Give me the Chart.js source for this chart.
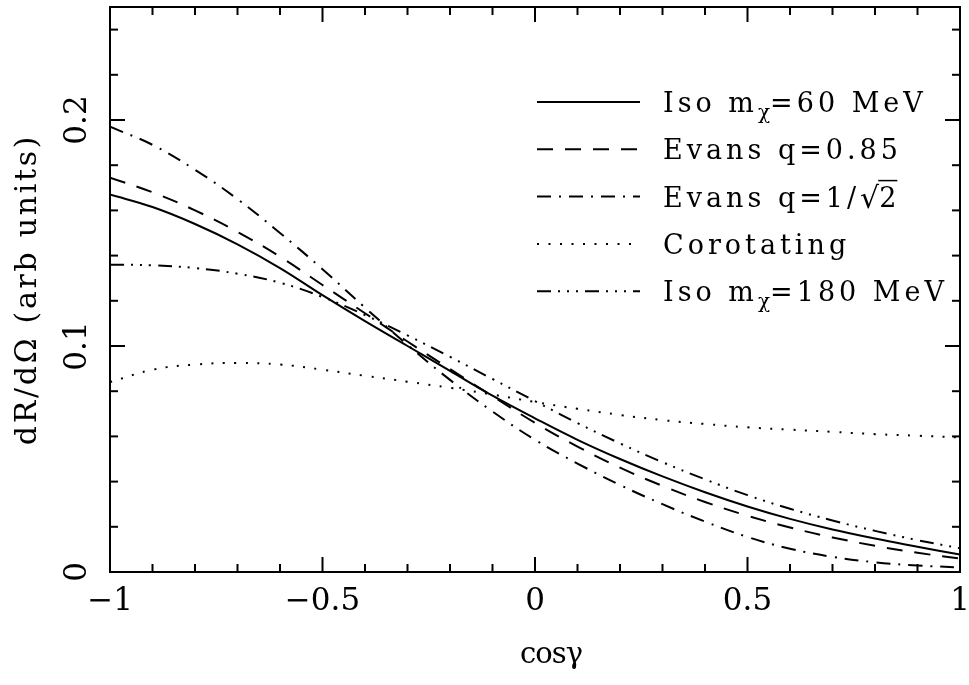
<!DOCTYPE html>
<html>
<head>
<meta charset="utf-8">
<script src="https://cdn.jsdelivr.net/npm/chart.js@4.4.0/dist/chart.umd.min.js"></script>
<style>
  html, body { margin: 0; padding: 0; background: #fff; }
</style>
</head>
<body>
<canvas id="chart" width="969" height="685"></canvas>
<script>
// === DATA ===
const cosGamma = [-1, -0.9, -0.8, -0.7, -0.6, -0.5, -0.4, -0.3, -0.2, -0.1, 0,
                  0.1, 0.2, 0.3, 0.4, 0.5, 0.6, 0.7, 0.8, 0.9, 1];
const iso60 = [0.167, 0.1615, 0.154, 0.145, 0.1345, 0.1225, 0.111, 0.100, 0.089, 0.078, 0.068,
               0.0585, 0.050, 0.0423, 0.0353, 0.029, 0.0235, 0.0188, 0.0148, 0.0112, 0.0077];
const evans085 = [0.1745, 0.168, 0.160, 0.1505, 0.1395, 0.127, 0.1145, 0.102, 0.0898, 0.0778, 0.066,
                  0.0555, 0.0462, 0.0381, 0.031, 0.0249, 0.0197, 0.0153, 0.0116, 0.0085, 0.006];
const evansInvSqrt2 = [0.197, 0.189, 0.178, 0.165, 0.150, 0.134, 0.117, 0.1005, 0.085, 0.071, 0.0585,
                       0.048, 0.0385, 0.030, 0.0223, 0.0155, 0.0103, 0.0067, 0.0043, 0.0029, 0.002];
const corotating = [0.084, 0.0895, 0.0918, 0.0925, 0.0918, 0.0895, 0.0868, 0.0842, 0.0815, 0.0785, 0.0752,
                    0.0722, 0.0695, 0.0672, 0.0655, 0.064, 0.063, 0.062, 0.061, 0.0603, 0.0595];
const iso180 = [0.136, 0.1357, 0.1345, 0.132, 0.128, 0.1217, 0.1137, 0.1047, 0.0952, 0.0854, 0.0756,
                0.0659, 0.0569, 0.0486, 0.041, 0.034, 0.028, 0.0228, 0.0182, 0.0141, 0.0105];

const xMajorTicks = [-1, -0.5, 0, 0.5, 1];
const xTickLabels = ['\u22121', '\u22120.5', '0', '0.5', '1'];
const yMajorTicks = [0, 0.1, 0.2];
const yTickLabels = ['0', '0.1', '0.2'];
const xMinorTicks = [-0.9, -0.8, -0.7, -0.6, -0.4, -0.3, -0.2, -0.1, 0.1, 0.2, 0.3, 0.4, 0.6, 0.7, 0.8, 0.9];
const yMinorTicks = [0.02, 0.04, 0.06, 0.08, 0.12, 0.14, 0.16, 0.18, 0.22, 0.24];

const SERIF = '"DejaVu Serif", "Liberation Serif", serif';

function pts(ys) {
    return ys.map((y, i) => ({ x: cosGamma[i], y: y }));
}

// legend label pieces: [text, isSubscript]
const series = [
    { data: iso60, dash: [], label: [['Iso m', false], ['\u03c7', true], ['=60 MeV', false]] },
    { data: evans085, dash: [16, 12], label: [['Evans q=0.85', false]] },
    { data: evansInvSqrt2, dash: [14, 8, 2, 8], label: [['Evans q=1/', false], ['sqrt', false]] },
    { data: corotating, dash: [2, 9.5], label: [['Corotating', false]] },
    { data: iso180, dash: [14, 7, 2, 7, 2, 7, 2, 7], label: [['Iso m', false], ['\u03c7', true], ['=180 MeV', false]] }
];

function setSpacing(ctx, px) {
    if ('letterSpacing' in ctx) ctx.letterSpacing = px + 'px';
}

// === FRAME, TICKS, LABELS, LEGEND ===
const framePlugin = {
    id: 'frame',
    afterDatasetsDraw(chart) {
        const ctx = chart.ctx;
        const xs = chart.scales.x, ys = chart.scales.y;
        const a = chart.chartArea;
        ctx.save();
        ctx.strokeStyle = '#000';
        ctx.fillStyle = '#000';
        ctx.lineWidth = 2;
        ctx.setLineDash([]);
        ctx.strokeRect(a.left, a.top, a.right - a.left, a.bottom - a.top);

        const tick = (x1, y1, x2, y2) => {
            ctx.beginPath(); ctx.moveTo(x1, y1); ctx.lineTo(x2, y2); ctx.stroke();
        };
        xMajorTicks.forEach(v => {
            const px = xs.getPixelForValue(v);
            tick(px, a.bottom, px, a.bottom - 15);
            tick(px, a.top, px, a.top + 15);
        });
        xMinorTicks.forEach(v => {
            const px = xs.getPixelForValue(v);
            tick(px, a.bottom, px, a.bottom - 8);
            tick(px, a.top, px, a.top + 8);
        });
        yMajorTicks.forEach(v => {
            const py = ys.getPixelForValue(v);
            tick(a.left, py, a.left + 15, py);
            tick(a.right, py, a.right - 15, py);
        });
        yMinorTicks.forEach(v => {
            const py = ys.getPixelForValue(v);
            tick(a.left, py, a.left + 8, py);
            tick(a.right, py, a.right - 8, py);
        });

        // tick labels
        ctx.font = '31px ' + SERIF;
        ctx.textAlign = 'center';
        ctx.textBaseline = 'middle';
        xMajorTicks.forEach((v, i) => {
            ctx.fillText(xTickLabels[i], xs.getPixelForValue(v), a.bottom + 30);
        });
        yMajorTicks.forEach((v, i) => {
            ctx.save();
            ctx.translate(a.left - 32, ys.getPixelForValue(v));
            ctx.rotate(-Math.PI / 2);
            ctx.fillText(yTickLabels[i], 0, 0);
            ctx.restore();
        });

        // axis titles
        ctx.font = '29px ' + SERIF;
        setSpacing(ctx, -1);
        ctx.fillText('cos\u03b3', 551, 655);
        ctx.font = '30px ' + SERIF;
        setSpacing(ctx, 2.7);
        ctx.save();
        ctx.translate(28, (a.top + a.bottom) / 2);
        ctx.rotate(-Math.PI / 2);
        ctx.fillText('dR/d\u03a9 (arb units)', 0, 0);
        ctx.restore();

        // legend
        ctx.textAlign = 'left';
        ctx.textBaseline = 'alphabetic';
        series.forEach((s, i) => {
            const cy = 102 + i * 47.3;
            ctx.setLineDash(s.dash);
            ctx.beginPath(); ctx.moveTo(537, cy); ctx.lineTo(640, cy); ctx.stroke();
            ctx.setLineDash([]);
            let x = 663;
            const base = cy + 10;
            s.label.forEach(([txt, sub]) => {
                if (txt === 'sqrt') {
                    ctx.font = '30px ' + SERIF;
                    setSpacing(ctx, 0);
                    ctx.fillText('\u221a', x, base + 1);
                    const w = ctx.measureText('\u221a').width;
                    ctx.font = '27px ' + SERIF;
                    setSpacing(ctx, 4);
                    ctx.fillText('2', x + w, base);
                    const w2 = ctx.measureText('2').width;
                    ctx.lineWidth = 1.5;
                    tick(x + w - 1, base - 26, x + w + w2 - 3, base - 26);
                    ctx.lineWidth = 2;
                    x += w + w2;
                    return;
                }
                ctx.font = (sub ? '20px ' : '27px ') + SERIF;
                setSpacing(ctx, sub ? 0 : 4);
                ctx.fillText(txt, x, sub ? base + 7 : base);
                x += ctx.measureText(txt).width;
            });
        });
        ctx.restore();
    }
};

new Chart(document.getElementById('chart'), {
    type: 'line',
    data: {
        datasets: series.map(s => ({
            data: pts(s.data),
            borderColor: '#000',
            borderWidth: 2,
            borderDash: s.dash,
            pointRadius: 0,
            fill: false,
            tension: 0.4
        }))
    },
    options: {
        responsive: false,
        devicePixelRatio: 1,
        animation: false,
        layout: { padding: { left: 110, right: 9, top: 7, bottom: 113 } },
        plugins: { legend: { display: false }, tooltip: { enabled: false } },
        scales: {
            x: { type: 'linear', min: -1, max: 1, display: false },
            y: { type: 'linear', min: 0, max: 0.25, display: false }
        }
    },
    plugins: [framePlugin]
});
</script>
</body>
</html>
